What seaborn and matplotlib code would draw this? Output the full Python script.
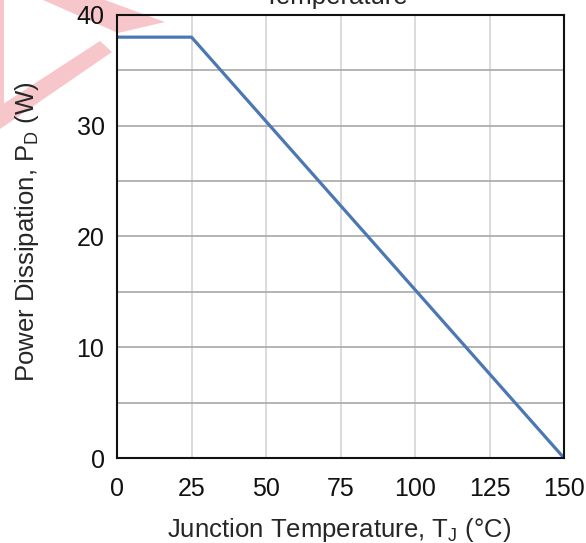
import matplotlib
matplotlib.use('Agg')
import matplotlib.pyplot as plt
import seaborn as sns
from matplotlib.patches import Polygon

# derating curve
temp_c = [0, 25, 150]
power_w = [38, 38, 0]
x_ticks = [0, 25, 50, 75, 100, 125, 150]
y_ticks = [0, 10, 20, 30, 40]
y_minor = [5, 15, 25, 35]

sns.set_style('white')
plt.rcParams['font.family'] = ['Liberation Sans', 'DejaVu Sans']
plt.rcParams['mathtext.fontset'] = 'custom'
plt.rcParams['mathtext.rm'] = 'Liberation Sans'

fig = plt.figure(figsize=(5.86, 5.43), dpi=100)

# pink watermark in the top-left corner (pixel coords, y from the top)
W, H = 586, 543
def px(pts):
    return [(x / W, 1 - y / H) for x, y in pts]

pink = '#f7c6ca'
for shape in ([(43, 0), (105, 0), (165, 22), (118, 33)],
              [(100, 41), (112, 52), (0, 129), (0, 106)],
              [(0, 0), (4, 0), (4, 108), (0, 110)]):
    fig.patches.append(Polygon(px(shape), closed=True, transform=fig.transFigure,
                               facecolor=pink, edgecolor='none', zorder=-5))

ax = fig.add_axes([117 / W, 1 - 458 / H, (564 - 117) / W, (458 - 15) / H])
ax.set_facecolor('none')

sns.lineplot(x=temp_c, y=power_w, ax=ax, color='#4b78b2', linewidth=2.3, sort=False)

ax.set_xlim(0, 150)
ax.set_ylim(0, 40)
ax.set_xticks(x_ticks)
ax.set_yticks(y_ticks)
ax.set_yticks(y_minor, minor=True)
ax.tick_params(axis='both', which='both', length=0, labelsize=18, colors='#111111')
ax.tick_params(axis='x', pad=14)
ax.tick_params(axis='y', pad=9)

ax.grid(True, axis='x', color='#d4d4d4', linewidth=1.2)
ax.grid(True, axis='y', which='both', color='#a8a8a8', linewidth=1.2)
for s in ax.spines.values():
    s.set_color('#111111')
    s.set_linewidth(1.5)

ax.set_xlabel('Junction Temperature, T$_\\mathrm{J}$ (°C)', fontsize=18.5)
ax.set_ylabel('Power Dissipation, P$_\\mathrm{D}$ (W)', fontsize=18.5)
ax.xaxis.set_label_coords(0.497, -0.13)
ax.yaxis.set_label_coords(-0.17, 0.512)

# title line cut off at the top of the picture
fig.text(336 / W, 1 - 4 / H, 'Temperature', ha='center', va='baseline', fontsize=18.5)

fig.savefig('out.png', dpi=100)
